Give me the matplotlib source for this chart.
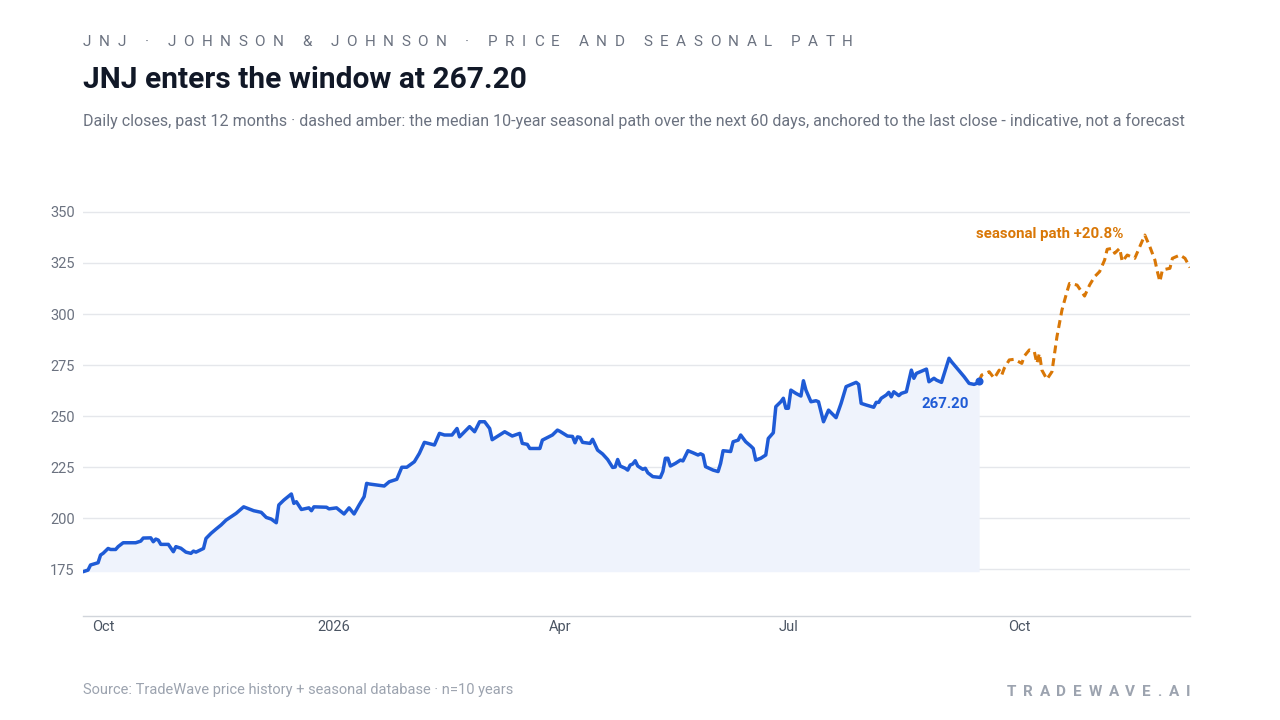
import matplotlib
matplotlib.use("Agg")
import matplotlib.pyplot as plt
import matplotlib.dates as mdates
import pandas as pd

# ---------------- data ----------------
price_dates = [
    "2025-09-23", "2025-09-25", "2025-09-26", "2025-09-29", "2025-09-30",
    "2025-10-01", "2025-10-03", "2025-10-04", "2025-10-06", "2025-10-07", "2025-10-09", "2025-10-14",
    "2025-10-16", "2025-10-17", "2025-10-20", "2025-10-21", "2025-10-22", "2025-10-23", "2025-10-24",
    "2025-10-27", "2025-10-29", "2025-10-30",
    "2025-11-01", "2025-11-03", "2025-11-05", "2025-11-06", "2025-11-07", "2025-11-08", "2025-11-10",
    "2025-11-11", "2025-11-13", "2025-11-15", "2025-11-17", "2025-11-19", "2025-11-23", "2025-11-26",
    "2025-11-30",
    "2025-12-03", "2025-12-05", "2025-12-07", "2025-12-09", "2025-12-10", "2025-12-12", "2025-12-14",
    "2025-12-15", "2025-12-16", "2025-12-17", "2025-12-19", "2025-12-22", "2025-12-23", "2025-12-24",
    "2025-12-29", "2025-12-30",
    "2026-01-02", "2026-01-05", "2026-01-07", "2026-01-09", "2026-01-11", "2026-01-13", "2026-01-14",
    "2026-01-15", "2026-01-21", "2026-01-23", "2026-01-26", "2026-01-28", "2026-01-30",
    "2026-02-02", "2026-02-04", "2026-02-06", "2026-02-10", "2026-02-12", "2026-02-14", "2026-02-17",
    "2026-02-19", "2026-02-20", "2026-02-24", "2026-02-26", "2026-02-28",
    "2026-03-02", "2026-03-04", "2026-03-05", "2026-03-10", "2026-03-13", "2026-03-16", "2026-03-17",
    "2026-03-19", "2026-03-20", "2026-03-24", "2026-03-25", "2026-03-29", "2026-03-31",
    "2026-04-01", "2026-04-04", "2026-04-06", "2026-04-07", "2026-04-08", "2026-04-09", "2026-04-10",
    "2026-04-13", "2026-04-14", "2026-04-16", "2026-04-18", "2026-04-20", "2026-04-22", "2026-04-23",
    "2026-04-24", "2026-04-25", "2026-04-27", "2026-04-28", "2026-04-29", "2026-04-30",
    "2026-05-01", "2026-05-02", "2026-05-04", "2026-05-05", "2026-05-06", "2026-05-08", "2026-05-11",
    "2026-05-12", "2026-05-13", "2026-05-14", "2026-05-15", "2026-05-17", "2026-05-19", "2026-05-20",
    "2026-05-22", "2026-05-24", "2026-05-26", "2026-05-27", "2026-05-28", "2026-05-29",
    "2026-06-01", "2026-06-03", "2026-06-04", "2026-06-05", "2026-06-08", "2026-06-09", "2026-06-11",
    "2026-06-12", "2026-06-14", "2026-06-16", "2026-06-17", "2026-06-18", "2026-06-20", "2026-06-22",
    "2026-06-23", "2026-06-25", "2026-06-26", "2026-06-28", "2026-06-29", "2026-06-30",
    "2026-07-01", "2026-07-02", "2026-07-04", "2026-07-06", "2026-07-07", "2026-07-08", "2026-07-10",
    "2026-07-12", "2026-07-13", "2026-07-15", "2026-07-17", "2026-07-20", "2026-07-22", "2026-07-24",
    "2026-07-28", "2026-07-29", "2026-07-30",
    "2026-08-01", "2026-08-04", "2026-08-05", "2026-08-06", "2026-08-07", "2026-08-09", "2026-08-10",
    "2026-08-11", "2026-08-12", "2026-08-14", "2026-08-15", "2026-08-17", "2026-08-19", "2026-08-20",
    "2026-08-21", "2026-08-24", "2026-08-25", "2026-08-26", "2026-08-28", "2026-08-29", "2026-08-31",
    "2026-09-03", "2026-09-04", "2026-09-09", "2026-09-11", "2026-09-13", "2026-09-14", "2026-09-15",
]
closes = [
    173.7, 174.5, 177.0, 178.1, 181.9,
    182.7, 185.1, 184.6, 184.6, 186.0, 187.9, 187.9,
    188.7, 190.2, 190.3, 188.4, 189.7, 189.2, 187.1,
    187.1, 183.5, 186.0,
    185.2, 183.3, 182.7, 183.8, 183.3, 183.9, 185.1,
    190.0, 192.5, 194.6, 196.6, 199.0, 202.3, 205.5,
    203.6,
    202.8, 200.3, 199.5, 197.7, 206.4, 208.8, 210.8,
    211.8, 207.2, 208.0, 204.2, 205.0, 203.6, 205.5,
    205.3, 204.5,
    205.0, 202.0, 205.0, 202.0, 206.4, 210.5, 217.0,
    216.7, 215.7, 217.8, 219.0, 224.9, 224.9,
    227.6, 231.7, 237.1, 235.8, 241.5, 240.7, 240.7,
    243.9, 239.8, 244.8, 242.3, 247.2,
    247.2, 243.9, 238.4, 242.3, 240.2, 241.5, 236.6,
    236.1, 234.1, 234.1, 238.2, 240.7, 243.1,
    242.5, 240.2, 240.0, 236.9, 239.8, 239.5, 237.1,
    236.6, 238.6, 233.3, 231.4, 228.7, 224.8, 225.0,
    228.7, 225.5, 224.4, 223.5, 226.0, 226.5,
    228.1, 225.5, 223.9, 224.4, 222.2, 220.3, 219.9,
    222.8, 229.3, 229.3, 225.5, 226.8, 228.4, 228.0,
    233.0, 232.0, 230.9, 231.5, 230.9, 225.2,
    223.5, 222.8, 226.8, 233.0, 232.6, 237.4, 238.2,
    240.7, 237.4, 235.3, 234.1, 228.4, 229.3, 230.9,
    239.0, 241.8, 254.6, 257.0, 258.7, 253.8,
    253.8, 262.7, 261.1, 259.8, 267.3, 262.7, 257.0,
    257.5, 257.0, 247.2, 252.9, 249.2, 256.2, 264.4,
    266.5, 265.5, 256.2,
    255.4, 254.3, 256.7, 256.7, 258.7, 260.3, 261.6,
    259.4, 261.9, 260.0, 261.1, 261.9, 272.5, 268.5,
    270.9, 272.5, 273.0, 266.8, 268.5, 267.6, 266.5,
    278.3, 276.6, 269.3, 266.0, 265.5, 266.0, 267.2,
]

seasonal_dates = [
    "2026-09-15", "2026-09-16", "2026-09-19", "2026-09-21", "2026-09-23", "2026-09-24", "2026-09-25",
    "2026-09-27", "2026-09-29", "2026-10-02", "2026-10-03", "2026-10-05", "2026-10-07", "2026-10-08",
    "2026-10-09", "2026-10-10", "2026-10-12", "2026-10-14", "2026-10-16", "2026-10-18", "2026-10-20",
    "2026-10-21", "2026-10-24", "2026-10-27", "2026-10-29", "2026-10-31", "2026-11-02", "2026-11-04",
    "2026-11-05", "2026-11-07", "2026-11-08", "2026-11-10", "2026-11-11", "2026-11-13", "2026-11-16",
    "2026-11-18", "2026-11-20", "2026-11-22", "2026-11-24", "2026-11-25", "2026-11-26", "2026-11-27",
    "2026-11-30", "2026-12-01", "2026-12-04", "2026-12-06", "2026-12-08",
]
seasonal_path = [
    267.2, 270.1, 271.7, 268.5, 272.5, 270.1, 273.4,
    277.5, 277.8, 275.8, 279.4, 282.4, 281.5, 275.8,
    280.7, 272.5, 268.0, 271.7, 288.9, 302.0, 311.0,
    315.0, 314.2, 308.8, 314.2, 318.3, 320.8, 326.5,
    331.7, 332.2, 329.8, 332.2, 325.7, 328.9, 327.3,
    333.0, 338.7, 333.0, 326.5, 320.8, 315.9, 321.6,
    322.4, 327.3, 328.9, 327.3, 322.8,
]

y_ticks = [175, 200, 225, 250, 275, 300, 325, 350]
x_tick_dates = ["2025-10-01", "2026-01-01", "2026-04-01", "2026-07-01", "2026-10-01"]
x_tick_labels = ["Oct", "2026", "Apr", "Jul", "Oct"]
x_range = ["2025-09-23", "2026-12-08"]
y_range = [152, 357]

header = "JNJ · JOHNSON & JOHNSON · PRICE AND SEASONAL PATH"
title = "JNJ enters the window at 267.20"
subtitle = ("Daily closes, past 12 months · dashed amber: the median 10-year seasonal path over the next "
            "60 days, anchored to the last close - indicative, not a forecast")
source = "Source: TradeWave price history + seasonal database · n=10 years"
brand = "TRADEWAVE.AI"

assert len(price_dates) == len(closes)
assert len(seasonal_dates) == len(seasonal_path)

# ---------------- style ----------------
BLUE = "#1f5bd6"
AMBER = "#d97706"
FILL = "#eff3fc"
plt.rcParams['font.family'] = ['Roboto', 'DejaVu Sans']

W, H = 1280, 720
fig = plt.figure(figsize=(W / 100, H / 100), dpi=100)
fig.patch.set_facecolor("white")

ax_top_px = 197.7
ax = fig.add_axes([83 / W, 1 - 616 / H, (1190 - 83) / W, (616 - ax_top_px) / H])

pd_dates = pd.to_datetime(price_dates)
sd = pd.to_datetime(seasonal_dates)

ax.fill_between(pd_dates, closes, min(closes), color=FILL, lw=0, zorder=1)
ax.plot(pd_dates, closes, color=BLUE, lw=2.5, solid_joinstyle="round", solid_capstyle="round", zorder=3)
ax.plot(sd, seasonal_path, color=AMBER, lw=2.2, dashes=(2.6, 1.6), zorder=3)
ax.scatter([pd_dates[-1]], [closes[-1]], s=34, color=BLUE, zorder=4, lw=0)

ax.set_xlim(pd.to_datetime(x_range[0]), pd.to_datetime(x_range[1]))
ax.set_ylim(*y_range)
ax.set_yticks(y_ticks)
ax.set_yticklabels([str(v) for v in y_ticks])
ax.set_xticks(pd.to_datetime(x_tick_dates))
ax.set_xticklabels(x_tick_labels)
ax.grid(axis="y", color="#e5e7eb", lw=1.0, zorder=0)
ax.set_axisbelow(True)
for s in ["top", "right", "left"]:
    ax.spines[s].set_visible(False)
ax.spines["bottom"].set_color("#d1d5db")
ax.spines["bottom"].set_linewidth(1.0)
ax.tick_params(axis="y", length=0, pad=6, labelsize=10.5, labelcolor="#6b7280")
ax.tick_params(axis="x", length=0, pad=3, labelsize=10.5, labelcolor="#4b5563")
ax.set_facecolor("white")

# annotations
ax.annotate(f"{closes[-1]:.2f}", xy=(pd_dates[-1], closes[-1]), xytext=(-34, -23),
            textcoords="offset pixels", ha="center", va="center", fontsize=10.8,
            fontweight="bold", color=BLUE, zorder=5)
pct = (seasonal_path[-1] / closes[-1] - 1) * 100
fig.text(976 / W, 1 - 234 / H, f"seasonal path +{pct:.1f}%", ha="left", va="center",
         fontsize=10.85, fontweight="bold", color=AMBER)

# texts
fig.text(83 / W, 1 - 80 / H, title, ha="left", va="center", fontsize=21.5, fontweight="bold",
         color="#111827")
fig.text(83 / W, 1 - 121 / H, subtitle, ha="left", va="center", fontsize=11.52, color="#6b7280")
fig.text(83 / W, 1 - 690 / H, source, ha="left", va="center", fontsize=10.5, color="#9ca3af")

renderer = fig.canvas.get_renderer()


def text_width(s, **kw):
    t = fig.text(0, 0, s, **kw)
    w = t.get_window_extent(renderer=renderer).width
    t.remove()
    return w


def spaced_text(s, x0, x1, baseline_y, **kw):
    ref = text_width("II", **kw)
    adv = [text_width("I" + c + "I", **kw) - ref for c in s]
    last_w = text_width(s[-1], **kw)
    tracking = ((x1 - x0) - sum(adv[:-1]) - last_w) / (len(s) - 1)
    x = x0
    for c, a in zip(s, adv):
        if c != " ":
            fig.text(x / W, 1 - baseline_y / H, c, ha="left", va="baseline", **kw)
        x += a + tracking


spaced_text(header, 83, 853, 46.5, fontsize=11, color="#6b7280")
spaced_text(brand, 1007, 1190, 695.5, fontsize=11, fontweight="bold", color="#9ca3af")

fig.savefig("out.png", dpi=100, facecolor="white")
